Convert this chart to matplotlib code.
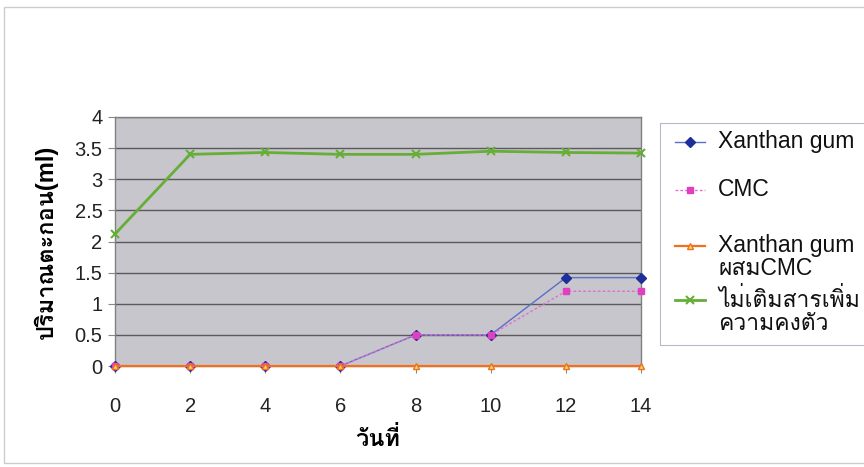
import matplotlib
matplotlib.use("Agg")
import matplotlib.pyplot as plt
from matplotlib import font_manager
from matplotlib.ft2font import FT2Font
from matplotlib.lines import Line2D
from matplotlib.patches import Rectangle

days = ["0", "2", "4", "6", "8", "10", "12", "14"]
xanthan = [0, 0, 0, 0, 0.5, 0.5, 1.42, 1.42]
cmc = [0, 0, 0, 0, 0.5, 0.5, 1.2, 1.2]
xanthan_cmc = [0, 0, 0, 0, 0, 0, 0, 0]
no_additive = [2.12, 3.4, 3.43, 3.4, 3.4, 3.45, 3.43, 3.42]
labels = ["Xanthan gum", "CMC", "Xanthan gum\nผสมCMC", "ไม่เติมสารเพิ่ม\nความคงตัว"]
yticks = [0, 0.5, 1, 1.5, 2, 2.5, 3, 3.5, 4]
ytick_labels = ["0", "0.5", "1", "1.5", "2", "2.5", "3", "3.5", "4"]
ylabel = "ปริมาณตะกอน(ml)"
xlabel = "วันที่"

# find a font with Thai glyphs
thai = None
for f in sorted(font_manager.findSystemFonts()):
    try:
        cm = FT2Font(f).get_charmap()
        if 0x0E27 in cm and 0x0E34 in cm:
            thai = font_manager.FontProperties(fname=f).get_name()
            if "Sans" in thai or "Loma" in thai:
                break
    except Exception:
        pass
fam = ["Liberation Sans"] + ([thai] if thai else []) + ["DejaVu Sans"]
plt.rcParams['font.family'] = fam

W, H = 864, 467
fig = plt.figure(figsize=(W / 100, H / 100), dpi=100)
ax = fig.add_axes([115 / W, 1 - 366 / H, (641 - 115) / W, (366 - 117) / H])
ax.set_facecolor("#c7c6cd")

styles = [
    dict(color="#5b6fc4", lw=1.0, marker="D", ms=5, mfc="#1f2f9a", mec="#1f2f9a", zorder=3),
    dict(color="#e070d0", lw=1.0, ls=(0, (2, 1.5)), marker="s", ms=5, mfc="#e040c0", mec="#e040c0", zorder=4),
    dict(color="#f07020", lw=1.6, marker="^", ms=5, mfc="#f0e060", mec="#f07020", zorder=5),
    dict(color="#66ae36", lw=2.0, marker="x", ms=6, mew=1.5, zorder=6),
]
series = [xanthan, cmc, xanthan_cmc, no_additive]
x = list(range(len(days)))
for ys, st in zip(series, styles):
    ax.plot(x, ys, clip_on=False, **st)

ax.set_xlim(0, len(days) - 1)
ax.set_ylim(0, 4)
ax.set_xticks(x)
ax.set_xticklabels(days)
ax.set_yticks(yticks)
ax.set_yticklabels(ytick_labels)
ax.yaxis.grid(True, color="#5a5a5a", lw=1.0)
ax.set_axisbelow(True)
ax.tick_params(labelsize=14.5, colors="#222222", length=5, width=0.8, direction="out")
ax.tick_params(axis="x", pad=17, color="#888888")
ax.tick_params(axis="y", pad=4, color="#888888")
for s in ax.spines.values():
    s.set_color("#808080")
    s.set_linewidth(1.0)

ax.set_ylabel(ylabel, fontsize=17, fontweight="bold", labelpad=12)
ax.set_xlabel(xlabel, fontsize=17, fontweight="bold", labelpad=8)

# legend drawn manually (handles aligned with first text line, like the original)
fig.add_artist(Rectangle((660 / W, 1 - 345 / H), 220 / W, (345 - 123) / H, transform=fig.transFigure,
                         fill=False, ec="#b8b8c8", lw=0.8))
rows = [142, 190, 246, 300]
for lab, st, yy in zip(labels, styles, rows):
    st2 = dict(st)
    st2.pop("zorder", None)
    fig.add_artist(Line2D([675 / W, 705 / W], [1 - yy / H] * 2, transform=fig.transFigure,
                          color=st2.pop("color"), lw=st2.pop("lw"), ls=st2.pop("ls", "-")))
    fig.add_artist(Line2D([690 / W], [1 - yy / H], transform=fig.transFigure, lw=0, color=st["color"], **st2))
    fig.text(718 / W, 1 - (yy - 12) / H, lab, fontsize=16.5, va="top", ha="left", color="#111111",
             linespacing=1.0)

fig.add_artist(Rectangle((4 / W, 4 / H), 1, 1 - 11 / H, transform=fig.transFigure,
                         fill=False, ec="#cccccc", lw=1))
fig.savefig("out.png", dpi=100)
